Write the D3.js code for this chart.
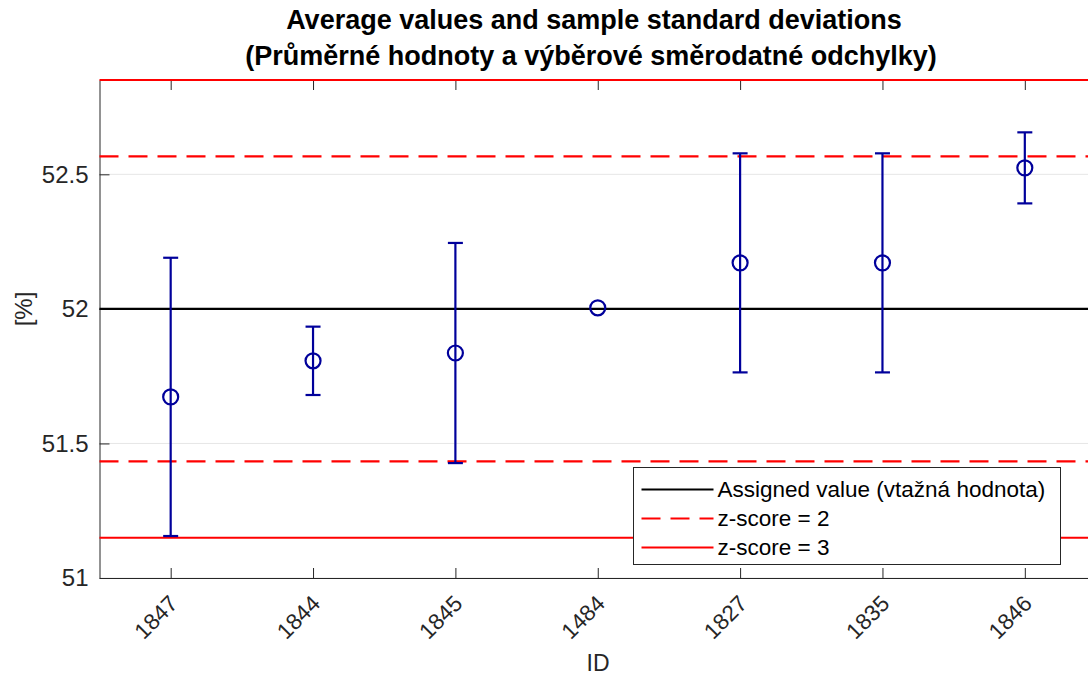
<!DOCTYPE html>
<html><head><meta charset="utf-8">
<script src="https://cdn.jsdelivr.net/npm/d3@7"></script>
<style>body{margin:0;background:#fff}svg{display:block;font-family:"Liberation Sans",Arial,sans-serif}</style>
</head><body><svg id="c" width="1088" height="676"></svg>
<script>
const ids = ["1847","1844","1845","1484","1827","1835","1846"];
const means = [51.673, 51.807, 51.836, 52.004, 52.171, 52.171, 52.524];
const sds = [0.517, 0.127, 0.409, 0, 0.407, 0.407, 0.132];
const assigned = 52;
const sigma = 0.2835;
const yTicks = [51, 51.5, 52, 52.5];
const legendLabels = ["Assigned value (vtažná hodnota)", "z-score = 2", "z-score = 3"];

const svg = d3.select("#c");
const L = 99.5, R = 1096, T = 80, B = 578;
const x = d3.scaleLinear().domain([0.5, 7.5]).range([L, R]);
const y = d3.scaleLinear().domain([51, assigned + 3*sigma]).range([B, T]);
const axisCol = "#262626";
const blue = "#00009b";
const FF = "Liberation Sans, Arial, sans-serif";

// grid
svg.append("g").selectAll("line").data(yTicks).join("line")
  .attr("x1", L).attr("x2", R).attr("y1", d=>y(d)).attr("y2", d=>y(d))
  .attr("stroke", "#e6e6e6").attr("stroke-width", 1);

// axes
const gy = svg.append("g").attr("transform", `translate(${L},0)`)
  .call(d3.axisLeft(y).tickValues(yTicks).tickSizeInner(-10).tickSizeOuter(0).tickPadding(11).tickFormat(d3.format("")));
gy.select(".domain").attr("stroke", axisCol);
gy.selectAll(".tick line").attr("stroke", axisCol);
gy.selectAll("text").attr("font-size", 24).attr("fill", axisCol).attr("font-family", FF);

const gx = svg.append("g").attr("transform", `translate(0,${B})`)
  .call(d3.axisBottom(x).tickValues(d3.range(1, 8)).tickSizeInner(-10).tickSizeOuter(0).tickFormat(d=>ids[d-1]));
gx.select(".domain").attr("stroke", axisCol);
gx.selectAll(".tick line").attr("stroke", axisCol);
gx.selectAll("text").attr("font-size", 22.5).attr("fill", axisCol).attr("font-family", FF)
  .attr("text-anchor", "end").attr("dy", null).attr("y", 0)
  .attr("transform", "translate(8,27) rotate(-45)");

// top ticks
const gt = svg.append("g").attr("transform", `translate(0,${T})`)
  .call(d3.axisTop(x).tickValues(d3.range(1, 8)).tickSizeInner(-10).tickSizeOuter(0).tickFormat(""));
gt.select(".domain").attr("stroke", axisCol);
gt.selectAll(".tick line").attr("stroke", axisCol);

// reference lines
svg.append("line").attr("x1", L).attr("x2", R).attr("y1", y(assigned)).attr("y2", y(assigned))
  .attr("stroke", "#000").attr("stroke-width", 2.2);
[2, -2].forEach(k => svg.append("line").attr("x1", L).attr("x2", R)
  .attr("y1", y(assigned + k*sigma)).attr("y2", y(assigned + k*sigma))
  .attr("stroke", "#ff0000").attr("stroke-width", 2.2).attr("stroke-dasharray", "19,10"));
[3, -3].forEach(k => svg.append("line").attr("x1", L).attr("x2", R)
  .attr("y1", y(assigned + k*sigma)).attr("y2", y(assigned + k*sigma))
  .attr("stroke", "#ff0000").attr("stroke-width", 2.2));

// error bars
const eb = svg.append("g").attr("stroke", blue).attr("stroke-width", 2.2).attr("fill", "none");
means.forEach((m, i) => {
  const cx = x(i+1), sd = sds[i];
  if (sd > 0) {
    eb.append("line").attr("x1", cx).attr("x2", cx).attr("y1", y(m+sd)).attr("y2", y(m-sd));
    eb.append("line").attr("x1", cx-7.5).attr("x2", cx+7.5).attr("y1", y(m+sd)).attr("y2", y(m+sd));
    eb.append("line").attr("x1", cx-7.5).attr("x2", cx+7.5).attr("y1", y(m-sd)).attr("y2", y(m-sd));
  }
  eb.append("circle").attr("cx", cx).attr("cy", y(m)).attr("r", 7.5);
});

// legend
const lg = svg.append("g").attr("transform", "translate(633.5,467.5)");
lg.append("rect").attr("width", 427).attr("height", 97).attr("fill", "#fff").attr("stroke", axisCol).attr("stroke-width", 1);
const styles = [{c:"#000", d:null}, {c:"#ff0000", d:"19,10"}, {c:"#ff0000", d:null}];
legendLabels.forEach((t, i) => {
  const yy = 22 + i*29;
  lg.append("line").attr("x1", 8).attr("x2", 80).attr("y1", yy).attr("y2", yy)
    .attr("stroke", styles[i].c).attr("stroke-width", 2.2).attr("stroke-dasharray", styles[i].d);
  lg.append("text").attr("x", 84).attr("y", yy).attr("dy", "0.35em").attr("font-size", 22.5).attr("fill", "#000").text(t);
});

// labels
svg.append("text").attr("x", 594).attr("y", 29).attr("text-anchor", "middle").attr("font-weight", "bold")
  .attr("font-size", 27).attr("fill", "#000").text("Average values and sample standard deviations");
svg.append("text").attr("x", 591).attr("y", 65).attr("text-anchor", "middle").attr("font-weight", "bold")
  .attr("font-size", 27).attr("fill", "#000").text("(Průměrné hodnoty a výběrové směrodatné odchylky)");
svg.append("text").attr("x", 598).attr("y", 671).attr("text-anchor", "middle").attr("font-size", 23).attr("fill", axisCol).text("ID");
svg.append("text").attr("transform", "translate(32,309) rotate(-90)").attr("text-anchor", "middle").attr("font-size", 24).attr("fill", axisCol).text("[%]");
</script></body></html>
